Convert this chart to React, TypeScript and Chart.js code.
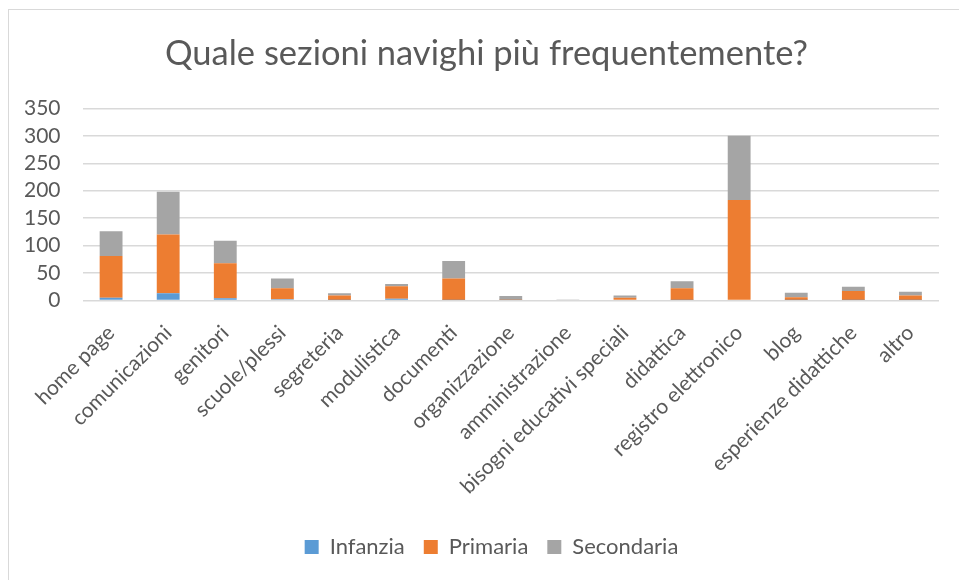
import React, { useEffect, useRef } from "react";
import { Chart, registerables } from "chart.js";

Chart.register(...registerables);

const categories = [
  "home page",
  "comunicazioni",
  "genitori",
  "scuole/plessi",
  "segreteria",
  "modulistica",
  "documenti",
  "organizzazione",
  "amministrazione",
  "bisogni educativi speciali",
  "didattica",
  "registro elettronico",
  "blog",
  "esperienze didattiche",
  "altro",
];

const infanzia = [5, 13, 4, 2, 1, 3, 1, 0, 0, 0, 1, 0, 1, 1, 1];
const primaria = [76, 107, 64, 20, 8, 23, 39, 1, 0, 5, 21, 183, 5, 16, 8];
const secondaria = [45, 78, 41, 18, 4, 4, 32, 7, 1, 4, 13, 117, 8, 8, 7];

const yTicks = [0, 50, 100, 150, 200, 250, 300, 350];

const FONT = "Lato";
const TEXT = "#595959";
const X_PAD = 12;
const Y_PAD = 22;

const shiftBoxes = {
  id: "shiftBoxes",
  afterLayout(chart: any) {
    const lg = chart.legend;
    if (lg) {
      lg.left += 10;
      lg.right += 10;
    }
    const tt = chart.titleBlock;
    if (tt) {
      tt.left += 5;
      tt.right += 5;
    }
  },
};

export default function App() {
  const ref = useRef<HTMLCanvasElement | null>(null);

  useEffect(() => {
    if (!ref.current) return;
    const chart = new Chart(ref.current, {
      type: "bar",
      plugins: [shiftBoxes],
      data: {
        labels: categories,
        datasets: [
          { label: "Infanzia", data: infanzia, backgroundColor: "#5B9BD5" },
          { label: "Primaria", data: primaria, backgroundColor: "#ED7D31" },
          { label: "Secondaria", data: secondaria, backgroundColor: "#A5A5A5" },
        ],
      },
      options: {
        animation: false,
        responsive: false,
        maintainAspectRatio: false,
        datasets: {
          bar: { barPercentage: 0.8, categoryPercentage: 0.5 },
        },
        layout: { padding: { left: 15, right: 20, top: 0, bottom: 12 } },
        plugins: {
          title: {
            display: true,
            text: "Quale sezioni navighi più frequentemente?",
            color: TEXT,
            font: { family: FONT, size: 34.5, weight: "normal" },
            padding: { top: 23, bottom: 34 },
          },
          legend: {
            position: "bottom",
            labels: {
              color: TEXT,
              font: { family: FONT, size: 22 },
              boxWidth: 14,
              boxHeight: 14,
              padding: 19,
            },
          },
          tooltip: { enabled: false },
        },
        scales: {
          x: {
            stacked: true,
            grid: { display: false },
            border: { display: false },
            afterFit: (scale: any) => {
              scale.paddingLeft = 0;
              scale.paddingRight = 0;
              scale.height = scale.height - X_PAD + 18;
            },
            ticks: {
              color: TEXT,
              font: { family: FONT, size: 21 },
              minRotation: 45,
              maxRotation: 45,
              autoSkip: false,
              padding: X_PAD,
            },
          },
          y: {
            stacked: true,
            min: 0,
            max: 350,
            afterBuildTicks: (axis: any) => {
              axis.ticks = yTicks.map((v) => ({ value: v }));
            },
            afterFit: (scale: any) => {
              scale.width = scale.width - Y_PAD;
            },
            grid: { color: "#D9D9D9", lineWidth: 1.5, drawTicks: false },
            border: { display: false },
            ticks: {
              color: TEXT,
              font: { family: FONT, size: 21 },
              padding: Y_PAD,
              autoSkip: false,
            },
          },
        },
      },
    });
    return () => chart.destroy();
  }, []);

  return (
    <div
      style={{
        position: "absolute",
        left: 8,
        top: 9,
        width: 951,
        height: 571,
        borderTop: "1px solid #D9D9D9",
        borderLeft: "1px solid #D9D9D9",
        boxSizing: "border-box",
        background: "#fff",
      }}
    >
      <canvas ref={ref} width={950} height={570} style={{ display: "block" }} />
    </div>
  );
}
